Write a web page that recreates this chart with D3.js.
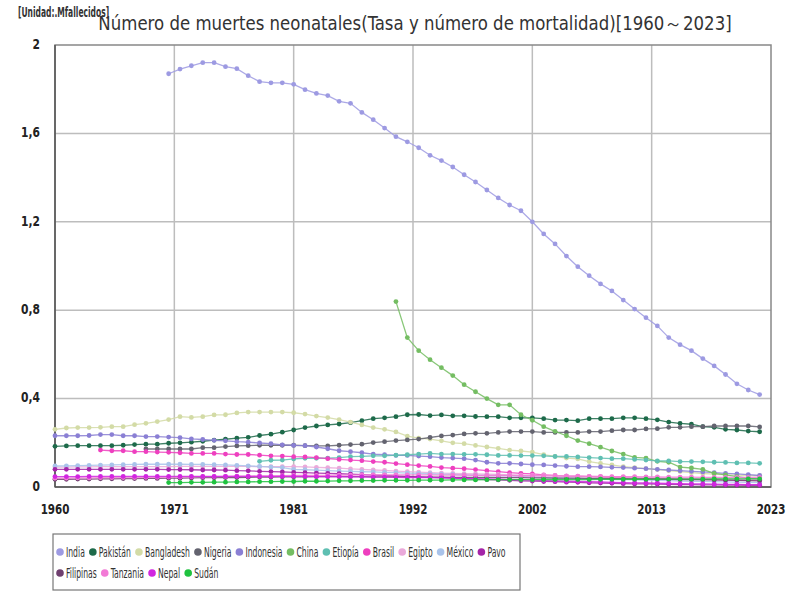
<!DOCTYPE html>
<html>
<head>
<meta charset="utf-8">
<script src="https://cdn.jsdelivr.net/npm/d3@7"></script>
<style>
  body { margin: 0; background: #fff; }
  svg { display: block; }
  text { font-family: "Liberation Sans Narrow", "DejaVu Sans Condensed", "Roboto", sans-serif; }
</style>
</head>
<body>
<svg id="chart" width="800" height="600"></svg>
<script>
const years = d3.range(1960, 2023);

const countries = ["India", "Pakistán", "Bangladesh", "Nigeria", "Indonesia", "China", "Etiopía", "Brasil",
    "Egipto", "México", "Pavo", "Filipinas", "Tanzania", "Nepal", "Sudán"];

const colours = ["#9d9ae2", "#1d6a4a", "#d3dba6", "#63636f", "#8a7fd4", "#74bd62", "#5fbfb2", "#ee3fbf",
    "#eaa9da", "#a9c3ea", "#a424a8", "#6f3f6f", "#f27ad6", "#d126e0", "#1fc23f"];

const _ = null;

const india = [_, _, _, _, _, _, _, _, _, _,
    1.870, 1.891, 1.906, 1.920, 1.920, 1.902, 1.893, 1.861, 1.834, 1.829,
    1.829, 1.822, 1.798, 1.781, 1.771, 1.745, 1.736, 1.695, 1.662, 1.624,
    1.585, 1.562, 1.535, 1.501, 1.477, 1.448, 1.413, 1.380, 1.344, 1.308,
    1.276, 1.250, 1.200, 1.145, 1.100, 1.045, 0.997, 0.956, 0.919, 0.887,
    0.846, 0.805, 0.766, 0.729, 0.676, 0.644, 0.617, 0.581, 0.548, 0.509,
    0.467, 0.439, 0.418];

const pakistan = [0.184, 0.186, 0.187, 0.187, 0.187, 0.187, 0.189, 0.192, 0.194, 0.194,
    0.198, 0.200, 0.203, 0.207, 0.212, 0.216, 0.221, 0.225, 0.233, 0.239,
    0.248, 0.258, 0.269, 0.276, 0.281, 0.285, 0.291, 0.300, 0.309, 0.313,
    0.318, 0.327, 0.328, 0.323, 0.326, 0.322, 0.322, 0.319, 0.318, 0.318,
    0.313, 0.313, 0.313, 0.309, 0.303, 0.303, 0.300, 0.309, 0.309, 0.309,
    0.313, 0.313, 0.309, 0.304, 0.294, 0.288, 0.284, 0.273, 0.270, 0.261,
    0.258, 0.253, 0.250];

const bangladesh = [0.261, 0.267, 0.269, 0.269, 0.270, 0.273, 0.273, 0.282, 0.288, 0.296,
    0.305, 0.318, 0.315, 0.318, 0.326, 0.327, 0.335, 0.339, 0.339, 0.339,
    0.339, 0.336, 0.330, 0.321, 0.314, 0.305, 0.294, 0.281, 0.269, 0.261,
    0.249, 0.230, 0.221, 0.217, 0.209, 0.200, 0.196, 0.188, 0.181, 0.175,
    0.167, 0.163, 0.158, 0.146, 0.139, 0.131, 0.127, 0.115, 0.107, 0.100,
    0.092, 0.088, 0.083, 0.079, 0.074, 0.070, 0.065, 0.061, 0.058, 0.055,
    0.054, 0.052, 0.051];

const nigeria = [_, _, _, _, _, _, _, _,
    0.172, 0.172, 0.172, 0.172, 0.172, 0.178, 0.178, 0.183, 0.186, 0.187,
    0.189, 0.189, 0.189, 0.189, 0.187, 0.186, 0.186, 0.189, 0.192, 0.194,
    0.201, 0.205, 0.210, 0.213, 0.217, 0.224, 0.231, 0.235, 0.240, 0.243,
    0.243, 0.247, 0.251, 0.251, 0.251, 0.247, 0.247, 0.247, 0.247, 0.251,
    0.251, 0.255, 0.258, 0.258, 0.263, 0.264, 0.270, 0.270, 0.273, 0.273,
    0.276, 0.276, 0.276, 0.276, 0.272];

const indonesia = [0.232, 0.232, 0.232, 0.233, 0.237, 0.237, 0.232, 0.232, 0.228, 0.228,
    0.226, 0.223, 0.218, 0.215, 0.211, 0.209, 0.205, 0.203, 0.199, 0.196,
    0.191, 0.188, 0.187, 0.181, 0.173, 0.164, 0.160, 0.155, 0.149, 0.146,
    0.143, 0.143, 0.140, 0.137, 0.133, 0.131, 0.128, 0.122, 0.112, 0.107,
    0.107, 0.104, 0.101, 0.100, 0.097, 0.094, 0.092, 0.092, 0.091, 0.089,
    0.088, 0.085, 0.083, 0.080, 0.077, 0.074, 0.071, 0.068, 0.065, 0.062,
    0.059, 0.056, 0.052];

const china = [_, _, _, _, _, _, _, _, _, _,
    _, _, _, _, _, _, _, _, _, _,
    _, _, _, _, _, _, _, _, _, _,
    0.839, 0.676, 0.617, 0.576, 0.540, 0.504, 0.463, 0.431, 0.400, 0.372,
    0.372, 0.327, 0.302, 0.273, 0.252, 0.232, 0.210, 0.196, 0.180, 0.163,
    0.149, 0.134, 0.131, 0.116, 0.112, 0.090, 0.086, 0.080, 0.062, 0.055,
    0.047, 0.040, 0.035];

const etiopia = [_, _, _, _, _, _, _, _, _, _,
    _, _, _, _, _, _, _, _,
    0.116, 0.121, 0.122, 0.127, 0.130, 0.130, 0.131, 0.133, 0.137, 0.139,
    0.141, 0.141, 0.144, 0.146, 0.149, 0.152, 0.149, 0.149, 0.148, 0.148,
    0.146, 0.143, 0.143, 0.142, 0.142, 0.141, 0.138, 0.138, 0.136, 0.133,
    0.131, 0.128, 0.128, 0.125, 0.122, 0.118, 0.118, 0.115, 0.115, 0.114,
    0.112, 0.111, 0.109, 0.109, 0.107];

const brasil = [_, _, _, _,
    0.167, 0.164, 0.164, 0.160, 0.160, 0.158,
    0.157, 0.155, 0.152, 0.152, 0.152, 0.149, 0.147, 0.147, 0.144, 0.141,
    0.140, 0.137, 0.136, 0.133, 0.128, 0.125, 0.122, 0.119, 0.115, 0.112,
    0.106, 0.101, 0.097, 0.093, 0.088, 0.085, 0.083, 0.079, 0.074, 0.070,
    0.065, 0.062, 0.059, 0.055, 0.052, 0.049, 0.048, 0.047, 0.046, 0.044,
    0.043, 0.041, 0.040, 0.038, 0.038, 0.037, 0.035, 0.034, 0.033, 0.032,
    0.032, 0.031, 0.031];

const egipto = [0.090, 0.090, 0.091, 0.091, 0.092, 0.092, 0.092, 0.092, 0.092, 0.092,
    0.092, 0.093, 0.093, 0.093, 0.093, 0.093, 0.093, 0.093, 0.092, 0.092,
    0.092, 0.092, 0.091, 0.089, 0.087, 0.085, 0.082, 0.080, 0.077, 0.075,
    0.072, 0.070, 0.067, 0.065, 0.063, 0.062, 0.060, 0.059, 0.058, 0.057,
    0.055, 0.054, 0.053, 0.052, 0.051, 0.050, 0.049, 0.048, 0.047, 0.046,
    0.045, 0.044, 0.043, 0.042, 0.041, 0.040, 0.039, 0.038, 0.037, 0.036,
    0.035, 0.034, 0.032];

const mexico = [0.095, 0.096, 0.097, 0.098, 0.099, 0.100, 0.101, 0.102, 0.103, 0.103,
    0.103, 0.103, 0.102, 0.102, 0.101, 0.100, 0.098, 0.096, 0.093, 0.090,
    0.088, 0.080, 0.078, 0.076, 0.074, 0.072, 0.071, 0.069, 0.068, 0.066,
    0.065, 0.063, 0.062, 0.060, 0.058, 0.057, 0.055, 0.054, 0.052, 0.051,
    0.050, 0.048, 0.046, 0.044, 0.042, 0.040, 0.039, 0.037, 0.036, 0.034,
    0.033, 0.032, 0.031, 0.030, 0.029, 0.027, 0.026, 0.025, 0.024, 0.023,
    0.022, 0.021, 0.020];

const pavo = [0.080, 0.080, 0.080, 0.080, 0.080, 0.080, 0.080, 0.080, 0.080, 0.080,
    0.079, 0.079, 0.078, 0.077, 0.077, 0.076, 0.074, 0.073, 0.071, 0.070,
    0.068, 0.066, 0.065, 0.063, 0.062, 0.060, 0.058, 0.056, 0.054, 0.052,
    0.050, 0.048, 0.046, 0.044, 0.042, 0.040, 0.038, 0.036, 0.034, 0.032,
    0.030, 0.028, 0.027, 0.025, 0.024, 0.022, 0.021, 0.019, 0.018, 0.017,
    0.015, 0.014, 0.014, 0.013, 0.012, 0.011, 0.011, 0.010, 0.010, 0.009,
    0.009, 0.008, 0.008];

const filipinas = [0.035, 0.035, 0.036, 0.036, 0.037, 0.037, 0.038, 0.038, 0.039, 0.039,
    0.040, 0.040, 0.041, 0.042, 0.042, 0.043, 0.043, 0.044, 0.045, 0.045,
    0.046, 0.046, 0.046, 0.047, 0.047, 0.047, 0.047, 0.047, 0.046, 0.046,
    0.046, 0.046, 0.045, 0.045, 0.045, 0.044, 0.044, 0.043, 0.043, 0.042,
    0.042, 0.042, 0.041, 0.041, 0.040, 0.040, 0.040, 0.039, 0.039, 0.038,
    0.038, 0.037, 0.037, 0.036, 0.035, 0.034, 0.034, 0.033, 0.032, 0.031,
    0.030, 0.029, 0.028];

const tanzania = [0.040, 0.040, 0.041, 0.041, 0.042, 0.042, 0.043, 0.043, 0.044, 0.044,
    0.045, 0.045, 0.046, 0.047, 0.047, 0.048, 0.049, 0.049, 0.050, 0.050,
    0.051, 0.052, 0.052, 0.053, 0.053, 0.054, 0.054, 0.055, 0.055, 0.055,
    0.055, 0.055, 0.055, 0.055, 0.054, 0.054, 0.054, 0.053, 0.053, 0.052,
    0.052, 0.051, 0.051, 0.050, 0.050, 0.049, 0.049, 0.048, 0.048, 0.047,
    0.047, 0.047, 0.046, 0.046, 0.045, 0.045, 0.045, 0.044, 0.044, 0.044,
    0.043, 0.043, 0.043];

const nepal = [0.047, 0.047, 0.047, 0.048, 0.048, 0.048, 0.048, 0.048, 0.048, 0.048,
    0.048, 0.048, 0.048, 0.048, 0.048, 0.048, 0.048, 0.048, 0.048, 0.048,
    0.048, 0.048, 0.048, 0.047, 0.047, 0.047, 0.046, 0.046, 0.045, 0.045,
    0.044, 0.043, 0.043, 0.042, 0.041, 0.040, 0.039, 0.037, 0.036, 0.035,
    0.033, 0.032, 0.031, 0.029, 0.028, 0.026, 0.025, 0.024, 0.023, 0.021,
    0.020, 0.019, 0.018, 0.017, 0.016, 0.015, 0.014, 0.014, 0.013, 0.012,
    0.012, 0.011, 0.011];

const sudan = [_, _, _, _, _, _, _, _, _, _,
    0.020, 0.020, 0.021, 0.021, 0.022, 0.022, 0.023, 0.023, 0.024, 0.024,
    0.025, 0.025, 0.026, 0.026, 0.027, 0.028, 0.028, 0.029, 0.029, 0.030,
    0.030, 0.030, 0.031, 0.031, 0.031, 0.032, 0.032, 0.032, 0.033, 0.033,
    0.033, 0.033, 0.033, 0.034, 0.034, 0.034, 0.034, 0.034, 0.035, 0.035,
    0.035, 0.035, 0.035, 0.036, 0.036, 0.036, 0.036, 0.036, 0.037, 0.037,
    0.037, 0.037, 0.037];

const seriesValues = [india, pakistan, bangladesh, nigeria, indonesia, china, etiopia, brasil,
    egipto, mexico, pavo, filipinas, tanzania, nepal, sudan];

const xTickYears = [1960, 1970.5, 1981, 1991.5, 2002, 2012.5, 2023];
const yTicks = [0, 0.4, 0.8, 1.2, 1.6, 2];

const series = countries.map((name, i) => ({
    name,
    colour: colours[i],
    points: years.map((year, j) => ({ year, value: seriesValues[i][j] }))
}));

const margin = { top: 45, right: 29, bottom: 113, left: 55 };
const width = 800 - margin.left - margin.right;
const height = 600 - margin.top - margin.bottom;

// the reference uses a narrow font, so texts are squeezed horizontally
const squeeze = 0.61;

const svg = d3.select("#chart");

const x = d3.scaleLinear().domain([1960, 2023]).range([0, width]);
const y = d3.scaleLinear().domain([0, 2]).range([height, 0]);

const locale = d3.formatLocale({ decimal: ",", thousands: ".", grouping: [3], currency: ["", ""] });
const yFormat = locale.format("~g");

const chart = svg.append("g")
    .attr("transform", `translate(${margin.left}, ${margin.top})`);

// grid
chart.selectAll(".grid-y")
    .data(yTicks.filter(d => d > 0 && d < 2))
    .join("line")
    .attr("x1", 0).attr("x2", width)
    .attr("y1", d => y(d)).attr("y2", d => y(d))
    .attr("stroke", "#bdbdbd").attr("stroke-width", 1.5);

chart.selectAll(".grid-x")
    .data(xTickYears.slice(1, -1))
    .join("line")
    .attr("x1", d => x(d)).attr("x2", d => x(d))
    .attr("y1", 0).attr("y2", height)
    .attr("stroke", "#bdbdbd").attr("stroke-width", 1.5);

// frame
chart.append("rect")
    .attr("width", width).attr("height", height)
    .attr("fill", "none").attr("stroke", "#888").attr("stroke-width", 1.5);

chart.append("line")
    .attr("x1", 0).attr("x2", width).attr("y1", height).attr("y2", height)
    .attr("stroke", "#555").attr("stroke-width", 1.5);
chart.append("line")
    .attr("x1", 0).attr("x2", 0).attr("y1", 0).attr("y2", height)
    .attr("stroke", "#555").attr("stroke-width", 1.5);

// axis labels
chart.selectAll(".y-label")
    .data(yTicks)
    .join("text")
    .attr("transform", d => `translate(-15, ${y(d)}) scale(0.85, 1)`)
    .attr("text-anchor", "end")
    .attr("dominant-baseline", "middle")
    .attr("font-size", 14)
    .attr("font-weight", "bold")
    .attr("fill", "#222")
    .text(d => yFormat(d));

chart.selectAll(".x-label")
    .data(xTickYears)
    .join("text")
    .attr("transform", d => `translate(${x(d)}, ${height + 23}) scale(0.82, 1)`)
    .attr("text-anchor", "middle")
    .attr("dominant-baseline", "middle")
    .attr("font-size", 14)
    .attr("font-weight", "bold")
    .attr("fill", "#222")
    .text(d => Math.round(d));

// series
const line = d3.line()
    .defined(d => d.value != null)
    .x(d => x(d.year))
    .y(d => y(d.value));

const seriesGroups = chart.selectAll(".series")
    .data(series)
    .join("g")
    .attr("class", "series");

seriesGroups.append("path")
    .attr("fill", "none")
    .attr("stroke", d => d.colour)
    .attr("stroke-width", 1.3)
    .attr("stroke-opacity", 0.85)
    .attr("d", d => line(d.points));

seriesGroups.selectAll("circle")
    .data(d => d.points.filter(p => p.value != null).map(p => ({ ...p, colour: d.colour })))
    .join("circle")
    .attr("cx", d => x(d.year))
    .attr("cy", d => y(d.value))
    .attr("r", 2.4)
    .attr("fill", d => d.colour);

// titles
svg.append("text")
    .attr("transform", "translate(415, 24) scale(0.97, 1)")
    .attr("text-anchor", "middle")
    .attr("dominant-baseline", "middle")
    .attr("font-size", 19)
    .attr("fill", "#333")
    .text("Número de muertes neonatales(Tasa y número de mortalidad)[1960～2023]");

svg.append("text")
    .attr("transform", `translate(18, 13) scale(0.6, 1)`)
    .attr("dominant-baseline", "middle")
    .attr("font-size", 14)
    .attr("font-weight", "bold")
    .attr("fill", "#333")
    .text("[Unidad:.Mfallecidos]");

// legend
const legend = svg.append("g");
legend.append("rect")
    .attr("x", 53).attr("y", 534)
    .attr("width", 467).attr("height", 56)
    .attr("fill", "#fff").attr("stroke", "#777").attr("stroke-width", 1.2);

const legendItems = legend.selectAll(".legend-item")
    .data(series)
    .join("g")
    .attr("class", "legend-item");

legendItems.append("circle")
    .attr("r", 3.8)
    .attr("cx", 3)
    .attr("cy", 0)
    .attr("fill", d => d.colour);

legendItems.append("text")
    .attr("transform", `translate(9, 0) scale(${squeeze}, 1)`)
    .attr("dominant-baseline", "central")
    .attr("font-size", 14)
    .attr("fill", "#333")
    .text(d => d.name);

let lx = 57, ly = 552;
legendItems.each(function() {
    const w = 9 + squeeze * d3.select(this).select("text").node().getComputedTextLength();
    if (lx + w > 518) { lx = 57; ly += 21; }
    d3.select(this).attr("transform", `translate(${lx}, ${ly})`);
    lx += w + 5;
});
</script>
</body>
</html>
